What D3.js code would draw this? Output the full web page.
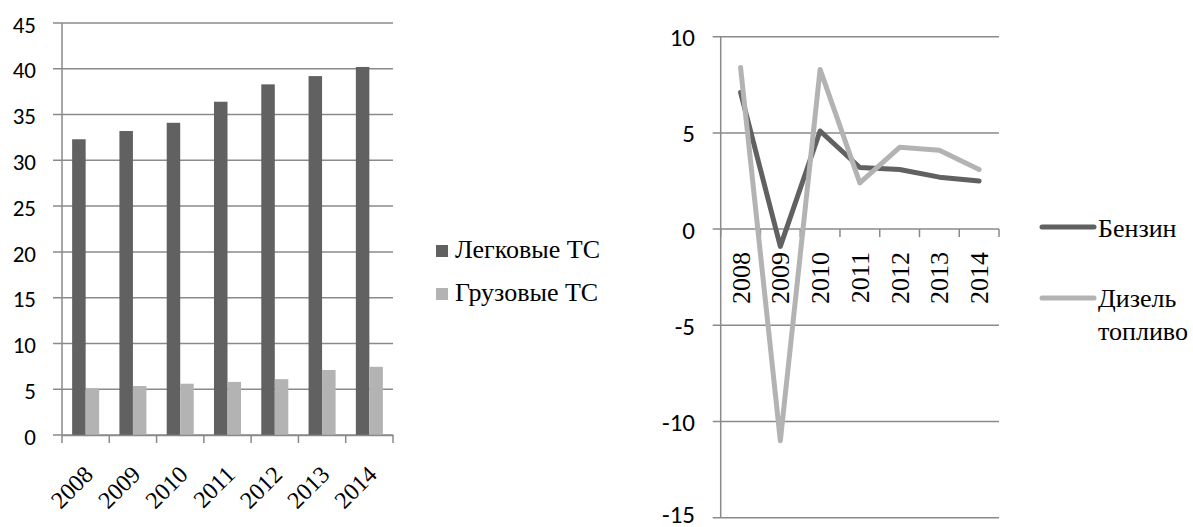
<!DOCTYPE html>
<html>
<head>
<meta charset="utf-8">
<script src="https://cdn.jsdelivr.net/npm/d3@7"></script>
<style>
  html, body { margin: 0; padding: 0; background: #fff; }
  svg { display: block; }
  .serif { font-family: "Liberation Serif", "Times New Roman", serif; }
  .sans { font-family: "Carlito", "Open Sans", sans-serif; }
</style>
</head>
<body>
<svg id="chart" width="1193" height="527"></svg>
<script>
// ---------- data ----------
const years = ["2008", "2009", "2010", "2011", "2012", "2013", "2014"];
const carsSeries = [32.3, 33.2, 34.1, 36.4, 38.3, 39.2, 40.2];     // Легковые ТС
const trucksSeries = [5.1, 5.35, 5.6, 5.8, 6.1, 7.1, 7.45];        // Грузовые ТС
const barSeriesNames = ["Легковые ТС", "Грузовые ТС"];
const leftTicks = [0, 5, 10, 15, 20, 25, 30, 35, 40, 45];

const petrolSeries = [7.1, -0.9, 5.1, 3.2, 3.1, 2.7, 2.5];          // Бензин
const dieselSeries = [8.4, -11.0, 8.3, 2.4, 4.25, 4.1, 3.1];        // Дизель топливо
const lineSeriesNames = ["Бензин", "Дизель топливо"];
const rightTicks = [-15, -10, -5, 0, 5, 10];

// ---------- styles ----------
const darkGrey = "#616161";
const lightGrey = "#b3b3b3";
const gridColor = "#8a8a8a";

const svg = d3.select("#chart");

// ================= LEFT CHART (bars) =================
{
  const L = { left: 62, right: 393, top: 23, bottom: 435 };
  const y = d3.scaleLinear().domain([0, 45]).range([L.bottom, L.top]);
  const x = d3.scaleBand().domain(years).range([L.left, L.right]).padding(0);
  const x1 = d3.scaleBand().domain(barSeriesNames).range([0, x.bandwidth()])
    .paddingInner(0).paddingOuter(0.75);

  const g = svg.append("g");

  g.append("g").selectAll("line").data(leftTicks).join("line")
    .attr("x1", L.left - 9).attr("x2", L.right)
    .attr("y1", d => y(d)).attr("y2", d => y(d))
    .attr("stroke", gridColor).attr("stroke-width", 1.5);

  g.append("line")
    .attr("x1", L.left).attr("x2", L.left)
    .attr("y1", y(45)).attr("y2", y(0))
    .attr("stroke", gridColor).attr("stroke-width", 1.5);

  const yAxis = d3.axisLeft(y).tickValues(leftTicks).tickSize(0).tickPadding(0);
  const ya = g.append("g").attr("transform", `translate(${36},0)`).call(yAxis);
  ya.select(".domain").remove();
  ya.attr("font-family", null).attr("font-size", null);
  ya.selectAll("text")
    .attr("class", "sans")
    .attr("font-size", 23).attr("fill", "#000")
    .attr("dy", "0.4em");

  const rows = years.map((yr, i) => ({ yr, vals: [carsSeries[i], trucksSeries[i]] }));
  const colors = [darkGrey, lightGrey];
  const grp = g.append("g").selectAll("g").data(rows).join("g")
    .attr("transform", d => `translate(${x(d.yr)},0)`);
  grp.selectAll("rect").data(d => d.vals.map((v, k) => ({ v, k }))).join("rect")
    .attr("x", d => x1(barSeriesNames[d.k]))
    .attr("width", x1.bandwidth())
    .attr("y", d => y(d.v))
    .attr("height", d => y(0) - y(d.v))
    .attr("fill", d => colors[d.k]);

  const xAxis = d3.axisBottom(x).tickSize(0).tickFormat("");
  g.append("g").attr("transform", `translate(0,${y(0)})`).call(xAxis)
    .select(".domain").attr("stroke", gridColor).attr("stroke-width", 1.5);
  const bounds = years.map(d => x(d)).concat([L.right]);
  g.append("g").selectAll("line").data(bounds).join("line")
    .attr("x1", d => d).attr("x2", d => d)
    .attr("y1", y(0)).attr("y2", y(0) + 8)
    .attr("stroke", gridColor).attr("stroke-width", 1.5);

  g.append("g").selectAll("text").data(years).join("text")
    .attr("class", "serif")
    .attr("transform", d => `translate(${x(d) + x.bandwidth() / 2 + 3},${470}) rotate(-45)`)
    .attr("text-anchor", "end").attr("dy", "0.35em")
    .attr("font-size", 24).attr("fill", "#000")
    .text(d => d);

  const leg = g.append("g");
  const legY = [251, 294];
  barSeriesNames.forEach((name, k) => {
    leg.append("rect").attr("x", 436).attr("y", legY[k] - 6).attr("width", 12).attr("height", 12)
      .attr("fill", colors[k]);
    leg.append("text").attr("class", "serif").attr("x", 455).attr("y", legY[k] + 7)
      .attr("font-size", 26).attr("fill", "#000")
      .text(name);
  });
}

// ================= RIGHT CHART (lines) =================
{
  const R = { left: 720.7, right: 999, top: 36.7, bottom: 517.7 };
  const y = d3.scaleLinear().domain([-15, 10]).range([R.bottom, R.top]);
  const x = d3.scaleBand().domain(years).range([R.left, R.right]).padding(0);
  const cx = d => x(d) + x.bandwidth() / 2;

  const g = svg.append("g");

  g.append("g").selectAll("line").data(rightTicks).join("line")
    .attr("x1", R.left - 8).attr("x2", R.right)
    .attr("y1", d => y(d)).attr("y2", d => y(d))
    .attr("stroke", gridColor).attr("stroke-width", 1.5);

  g.append("line")
    .attr("x1", R.left).attr("x2", R.left)
    .attr("y1", y(10)).attr("y2", y(-15))
    .attr("stroke", gridColor).attr("stroke-width", 1.5);

  const yAxis = d3.axisLeft(y).tickValues(rightTicks).tickSize(0).tickPadding(0)
    .tickFormat(d => String(d));
  const ya = g.append("g").attr("transform", `translate(${695},0)`).call(yAxis);
  ya.select(".domain").remove();
  ya.attr("font-family", null).attr("font-size", null);
  ya.selectAll("text")
    .attr("class", "sans")
    .attr("font-size", 25).attr("fill", "#000")
    .attr("dy", d => d === -15 ? "0.2em" : "0.36em");

  const bounds = years.map(d => x(d)).concat([R.right]);
  g.append("g").selectAll("line").data(bounds).join("line")
    .attr("x1", d => d).attr("x2", d => d)
    .attr("y1", y(0)).attr("y2", y(0) + 8)
    .attr("stroke", gridColor).attr("stroke-width", 1.5);

  g.append("g").selectAll("text").data(years).join("text")
    .attr("class", "serif")
    .attr("transform", d => `translate(${cx(d)},${y(0) + 23}) rotate(-90)`)
    .attr("text-anchor", "end").attr("dy", "0.35em")
    .attr("font-size", 26).attr("fill", "#000")
    .text(d => d);

  const line = d3.line().x((d, i) => cx(years[i])).y(d => y(d));
  const series = [
    { vals: petrolSeries, color: darkGrey },
    { vals: dieselSeries, color: lightGrey }
  ];
  g.append("g").selectAll("path").data(series).join("path")
    .attr("d", d => line(d.vals))
    .attr("fill", "none").attr("stroke", d => d.color)
    .attr("stroke-width", 5).attr("stroke-linejoin", "round").attr("stroke-linecap", "round");

  const leg = g.append("g");
  const legLineY = [227, 298];
  series.forEach((s, k) => {
    leg.append("line").attr("x1", 1042).attr("x2", 1094)
      .attr("y1", legLineY[k]).attr("y2", legLineY[k])
      .attr("stroke", s.color).attr("stroke-width", 5).attr("stroke-linecap", "round");
  });
  leg.append("text").attr("class", "serif").attr("x", 1098).attr("y", 237)
    .attr("font-size", 26).attr("fill", "#000")
    .text(lineSeriesNames[0]);
  const t2 = leg.append("text").attr("class", "serif").attr("font-size", 26).attr("fill", "#000");
  const parts = lineSeriesNames[1].split(" ");
  t2.append("tspan").attr("x", 1098).attr("y", 307).text(parts[0]);
  t2.append("tspan").attr("x", 1098).attr("y", 340).text(parts[1]);
}
</script>
</body>
</html>
